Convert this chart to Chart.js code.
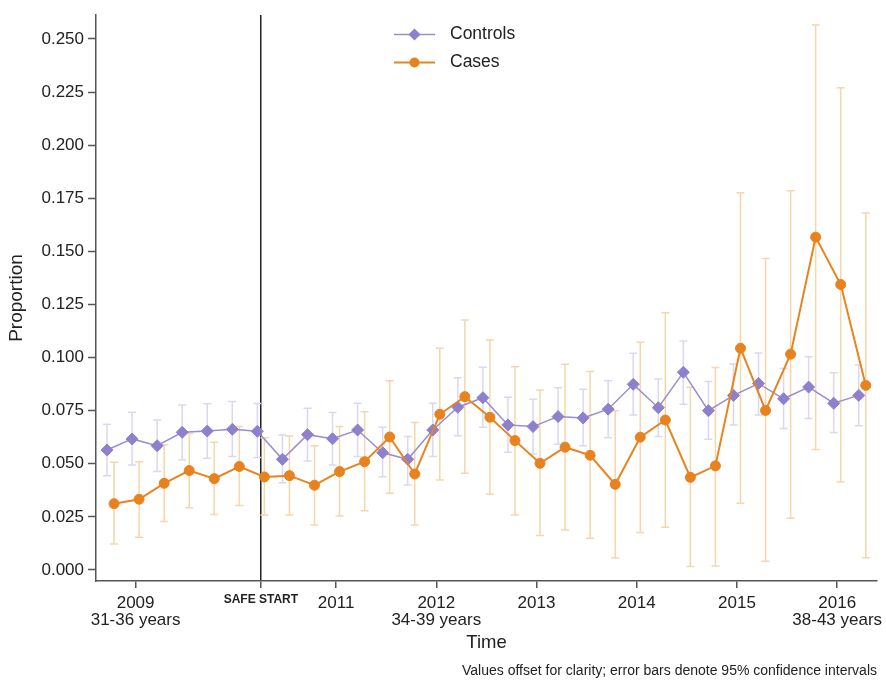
<!DOCTYPE html>
<html>
<head>
<meta charset="utf-8">
<script src="https://cdn.jsdelivr.net/npm/chart.js@4.4.1/dist/chart.umd.min.js"></script>
<style>
  html, body { margin: 0; padding: 0; background: #fff; }
  #wrap { width: 886px; height: 680px; }
</style>
</head>
<body>
<div id="wrap"><canvas id="chart" width="886" height="680"></canvas></div>
<script>
// Quarter positions (decimal years)
const quarters = [
  2008.75, 2009.00, 2009.25, 2009.50, 2009.75, 2010.00, 2010.25, 2010.50,
  2010.75, 2011.00, 2011.25, 2011.50, 2011.75, 2012.00, 2012.25, 2012.50,
  2012.75, 2013.00, 2013.25, 2013.50, 2013.75, 2014.00, 2014.25, 2014.50,
  2014.75, 2015.00, 2015.25, 2015.50, 2015.75, 2016.00, 2016.25
];

// Controls: proportion and 95% CI
const controls = [
  0.0565, 0.0617, 0.0585, 0.0648, 0.0654, 0.0662, 0.0653, 0.0521,
  0.0637, 0.0618, 0.0659, 0.0552, 0.0521, 0.0659, 0.0766, 0.0811,
  0.0683, 0.0675, 0.0722, 0.0716, 0.0757, 0.0874, 0.0764, 0.0931,
  0.0750, 0.0822, 0.0878, 0.0806, 0.0861, 0.0785, 0.0822
];
const controlsLow = [
  0.0444, 0.0494, 0.0463, 0.0518, 0.0526, 0.0534, 0.0530, 0.0411,
  0.0513, 0.0494, 0.0534, 0.0439, 0.0400, 0.0534, 0.0632, 0.0672,
  0.0554, 0.0546, 0.0592, 0.0585, 0.0623, 0.0730, 0.0628, 0.0780,
  0.0615, 0.0683, 0.0730, 0.0666, 0.0713, 0.0647, 0.0679
];
const controlsHigh = [
  0.0686, 0.0742, 0.0706, 0.0777, 0.0782, 0.0793, 0.0784, 0.0636,
  0.0761, 0.0741, 0.0785, 0.0672, 0.0628, 0.0785, 0.0905, 0.0954,
  0.0813, 0.0804, 0.0858, 0.0851, 0.0891, 0.1020, 0.0899, 0.1078,
  0.0887, 0.0970, 0.1021, 0.0948, 0.1004, 0.0928, 0.0965
];

// Cases: proportion and 95% CI
const cases = [
  0.0312, 0.0333, 0.0408, 0.0468, 0.0430, 0.0487, 0.0438, 0.0444,
  0.0399, 0.0463, 0.0510, 0.0626, 0.0452, 0.0733, 0.0816, 0.0719,
  0.0609, 0.0502, 0.0578, 0.0540, 0.0403, 0.0625, 0.0706, 0.0436,
  0.0490, 0.1044, 0.0751, 0.1016, 0.1567, 0.1344, 0.0869
];
const casesLow = [
  0.0122, 0.0154, 0.0228, 0.0293, 0.0261, 0.0303, 0.0259, 0.0259,
  0.0212, 0.0254, 0.0279, 0.0361, 0.0212, 0.0424, 0.0455, 0.0356,
  0.0259, 0.0162, 0.0188, 0.0149, 0.0058, 0.0176, 0.0201, 0.0016,
  0.0019, 0.0314, 0.0041, 0.0244, 0.0567, 0.0415, 0.0057
];
const casesHigh = [
  0.0507, 0.0510, 0.0589, 0.0643, 0.0601, 0.0675, 0.0622, 0.0631,
  0.0585, 0.0675, 0.0745, 0.0891, 0.0694, 0.1044, 0.1177, 0.1083,
  0.0957, 0.0847, 0.0968, 0.0934, 0.0750, 0.1072, 0.1211, 0.0860,
  0.0953, 0.1776, 0.1466, 0.1786, 0.2566, 0.2271, 0.1681
];

// Axis ticks
const yTicks = [0, 0.025, 0.05, 0.075, 0.1, 0.125, 0.15, 0.175, 0.2, 0.225, 0.25];
const SAFE_START = 2010.25;
const xTickValues = [2009, SAFE_START, 2011, 2012, 2013, 2014, 2015, 2016];
const xTickLabels = [
  ['2009', '31-36 years'], 'SAFE START', '2011', ['2012', '34-39 years'],
  '2013', '2014', '2015', ['2016', '38-43 years']
];

// Horizontal shift of each series so markers do not overlap
const OFFSET = 0.035;

const FONT = "'Liberation Sans', Arial, Helvetica, sans-serif";
const TEXT = '#222';
const AXIS = '#555';

const CONTROL_COLOR = '#8E80CC';
const CONTROL_LINE = '#9A8ED2';
const CONTROL_CI = '#DCD7F0';
const CASE_COLOR = '#E8821E';
const CASE_LINE = '#E8841F';
const CASE_CI = '#F6D6AA';

Chart.defaults.font.family = FONT;
Chart.defaults.color = TEXT;

// Vertical 95% CI whiskers with caps, drawn underneath the lines
const errorBars = {
  id: 'errorBars',
  beforeDatasetsDraw(chart) {
    const { ctx } = chart;
    const xs = chart.scales.x, ys = chart.scales.y;
    ctx.save();
    ctx.lineWidth = 1.5;
    chart.data.datasets.forEach(ds => {
      ctx.strokeStyle = ds.ciColor;
      ds.data.forEach((p, i) => {
        const px = xs.getPixelForValue(p.x);
        const lo = ys.getPixelForValue(ds.ciLow[i]);
        const hi = ys.getPixelForValue(ds.ciHigh[i]);
        ctx.beginPath();
        ctx.moveTo(px, lo); ctx.lineTo(px, hi);
        ctx.moveTo(px - 4, lo); ctx.lineTo(px + 4, lo);
        ctx.moveTo(px - 4, hi); ctx.lineTo(px + 4, hi);
        ctx.stroke();
      });
    });
    ctx.restore();
  }
};

// Legend with a line-and-marker sample for each series
const lineLegend = {
  id: 'lineLegend',
  afterDraw(chart) {
    const { ctx, chartArea } = chart;
    const x0 = chartArea.left + 298, x1 = x0 + 41, xm = (x0 + x1) / 2;
    const textX = x1 + 15;
    ctx.save();
    chart.data.datasets.forEach((ds, i) => {
      const y = chartArea.top + 19.5 + i * 28;
      ctx.strokeStyle = ds.borderColor;
      ctx.lineWidth = ds.borderWidth;
      ctx.beginPath(); ctx.moveTo(x0, y); ctx.lineTo(x1, y); ctx.stroke();
      ctx.fillStyle = ds.pointBackgroundColor;
      ctx.beginPath();
      if (ds.pointStyle === 'rectRot') {
        const r = ds.pointRadius;
        ctx.moveTo(xm, y - r); ctx.lineTo(xm + r, y); ctx.lineTo(xm, y + r); ctx.lineTo(xm - r, y);
        ctx.closePath();
      } else {
        ctx.arc(xm, y, ds.pointRadius, 0, Math.PI * 2);
      }
      ctx.fill();
      ctx.fillStyle = TEXT;
      ctx.font = '17.5px ' + FONT;
      ctx.textAlign = 'left';
      ctx.textBaseline = 'middle';
      ctx.fillText(ds.label, textX, y);
    });
    ctx.restore();
  }
};

const controlPoints = quarters.map((t, i) => ({ x: t - OFFSET, y: controls[i] }));
const casePoints = quarters.map((t, i) => ({ x: t + OFFSET, y: cases[i] }));

new Chart(document.getElementById('chart'), {
  type: 'line',
  data: {
    datasets: [
      {
        label: 'Controls',
        data: controlPoints,
        ciLow: controlsLow, ciHigh: controlsHigh, ciColor: CONTROL_CI,
        borderColor: CONTROL_LINE, borderWidth: 1.5,
        pointStyle: 'rectRot', pointRadius: 6,
        pointBackgroundColor: CONTROL_COLOR, pointBorderColor: CONTROL_COLOR, pointBorderWidth: 1,
        tension: 0, order: 2
      },
      {
        label: 'Cases',
        data: casePoints,
        ciLow: casesLow, ciHigh: casesHigh, ciColor: CASE_CI,
        borderColor: CASE_LINE, borderWidth: 2,
        pointStyle: 'circle', pointRadius: 5,
        pointBackgroundColor: CASE_COLOR, pointBorderColor: CASE_COLOR, pointBorderWidth: 1,
        tension: 0, order: 1
      }
    ]
  },
  options: {
    responsive: false,
    devicePixelRatio: 1,
    animation: false,
    events: [],
    layout: { padding: { left: 0, right: 9, top: 15, bottom: 0 } },
    plugins: {
      legend: { display: false },
      tooltip: { enabled: false },
      subtitle: {
        display: true,
        text: 'Values offset for clarity; error bars denote 95% confidence intervals',
        position: 'bottom', align: 'end',
        font: { size: 14, weight: 'normal' }, color: TEXT,
        padding: { top: 2, bottom: 0 }
      }
    },
    scales: {
      x: {
        type: 'linear',
        min: 2008.605, max: 2016.397,
        afterBuildTicks: s => { s.ticks = xTickValues.map(v => ({ value: v })); },
        afterFit: s => { s.height = 80.2; s.paddingRight = 0; },
        ticks: {
          autoSkip: false, maxRotation: 0, minRotation: 0,
          padding: 7, color: TEXT,
          callback: (v, i) => xTickLabels[i],
          font: ctx => (ctx.tick && ctx.tick.value === SAFE_START)
            ? { family: "'Liberation Sans Narrow', 'Liberation Sans', Arial, sans-serif", size: 12, weight: 'bold', lineHeight: 0.7 }
            : { size: 17, lineHeight: 1 }
        },
        grid: {
          drawOnChartArea: true,
          color: ctx => (ctx.tick && ctx.tick.value === SAFE_START) ? '#222' : 'rgba(0,0,0,0)',
          lineWidth: 1.5,
          tickColor: AXIS, tickWidth: 1.5, tickLength: 7
        },
        border: { display: true, color: AXIS, width: 1.5 },
        title: {
          display: true, text: 'Time', color: TEXT,
          font: { size: 18.5 }, padding: { top: 0, bottom: 7.1 }
        }
      },
      y: {
        type: 'linear',
        min: -0.0052, max: 0.2613,
        afterBuildTicks: s => { s.ticks = yTicks.map(v => ({ value: v })); },
        afterFit: s => { s.width = 96; },
        ticks: {
          padding: 4, color: TEXT, font: { size: 17 },
          callback: v => v.toFixed(3)
        },
        grid: {
          drawOnChartArea: false,
          tickColor: AXIS, tickWidth: 1.5, tickLength: 8
        },
        border: { display: true, color: AXIS, width: 1.5 },
        title: {
          display: true, text: 'Proportion', color: TEXT,
          font: { size: 19 }, padding: { top: 5, bottom: 0 }
        }
      }
    }
  },
  plugins: [errorBars, lineLegend]
});
</script>
</body>
</html>
